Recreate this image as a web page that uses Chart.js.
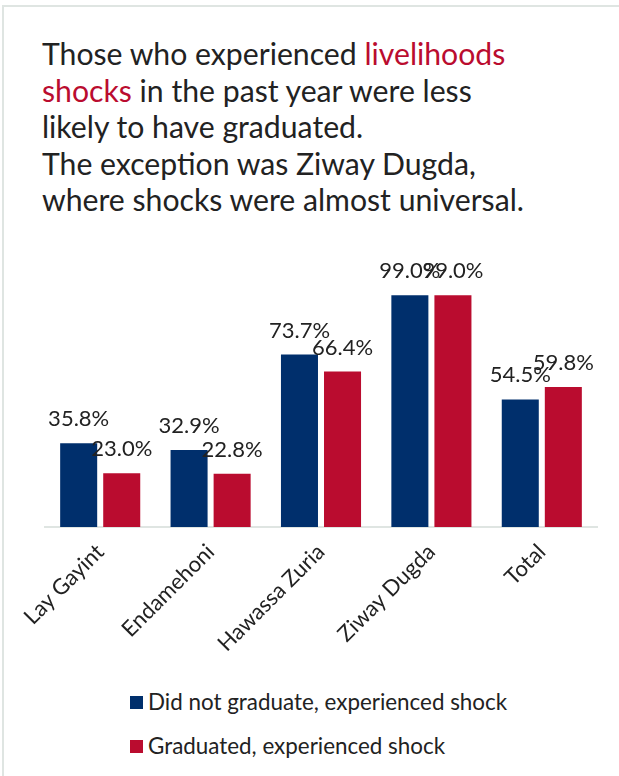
<!DOCTYPE html>
<html>
<head>
<meta charset="utf-8">
<script src="https://cdn.jsdelivr.net/npm/chart.js@4.4.0/dist/chart.umd.min.js"></script>
<style>
  html, body { margin: 0; padding: 0; background: #fff; }
  body { width: 619px; height: 776px; position: relative; overflow: hidden; font-family: Lato, "Open Sans", sans-serif; }
  #frame { position: absolute; left: 2px; top: 5px; width: 700px; height: 900px; border-left: 2px solid #dfe5e2; border-top: 2px solid #dfe5e2; }
  #title { position: absolute; left: 42px; top: 35px; font-size: 30.2px; line-height: 36.5px; color: #222; margin: 0; font-weight: normal; white-space: nowrap; }
  #title .hl { color: #ba0c2f; }
  #wrap { position: absolute; left: 0; top: 240px; width: 619px; height: 440px; }
  #legend { position: absolute; left: 130px; top: 688px; font-size: 22.4px; color: #222; }
  .li { position: relative; height: 44px; line-height: 28px; padding-left: 18px; white-space: nowrap; }
  .li .sw { position: absolute; left: 0; top: 8px; width: 13px; height: 13px; }
</style>
</head>
<body>
<div id="frame"></div>
<div id="title">Those who experienced <span class="hl">livelihoods</span><br><span class="hl">shocks</span> in the past year were less<br>likely to have graduated.<br>The exception was Ziway Dugda,<br>where shocks were almost universal.</div>
<div id="wrap"><canvas id="c"></canvas></div>
<div id="legend"></div>
<script>
const categories = ["Lay Gayint", "Endamehoni", "Hawassa Zuria", "Ziway Dugda", "Total"];
const seriesNames = ["Did not graduate, experienced shock", "Graduated, experienced shock"];
const notGraduated = [35.8, 32.9, 73.7, 99.0, 54.5];
const graduated = [23.0, 22.8, 66.4, 99.0, 59.8];
const colors = ["#002f6c", "#ba0c2f"];

const valueLabels = {
  id: "valueLabels",
  afterDatasetsDraw(chart) {
    const ctx = chart.ctx;
    ctx.save();
    ctx.font = "22px Lato, 'Open Sans', sans-serif";
    ctx.fillStyle = "#222";
    ctx.textAlign = "center";
    ctx.textBaseline = "alphabetic";
    chart.data.datasets.forEach((ds, i) => {
      const meta = chart.getDatasetMeta(i);
      meta.data.forEach((bar, j) => {
        ctx.fillText(ds.data[j].toFixed(1) + "%", bar.x, bar.y - 17);
      });
    });
    ctx.restore();
  }
};

new Chart(document.getElementById("c"), {
  type: "bar",
  data: {
    labels: categories,
    datasets: [
      { label: seriesNames[0], data: notGraduated, backgroundColor: colors[0] },
      { label: seriesNames[1], data: graduated, backgroundColor: colors[1] }
    ]
  },
  options: {
    responsive: true,
    maintainAspectRatio: false,
    animation: false,
    layout: { padding: { left: 45, right: 22, top: 53, bottom: 0 } },
    categoryPercentage: 0.78,
    barPercentage: 0.86,
    plugins: { legend: { display: false }, tooltip: { enabled: false } },
    scales: {
      x: {
        grid: { display: false },
        border: { display: true, color: "#dfe5e2", width: 2 },
        ticks: { color: "#222", font: { size: 22, family: "Lato, 'Open Sans', sans-serif" }, maxRotation: 45, minRotation: 45, padding: 4 },
        afterFit(s) { s.height = 153; }
      },
      y: { display: false, min: 0, max: 100 }
    }
  },
  plugins: [valueLabels]
});

const lg = document.getElementById("legend");
seriesNames.forEach((n, i) => {
  const d = document.createElement("div");
  d.className = "li";
  d.innerHTML = '<span class="sw" style="background:' + colors[i] + '"></span>' + n;
  lg.appendChild(d);
});
</script>
</body>
</html>
